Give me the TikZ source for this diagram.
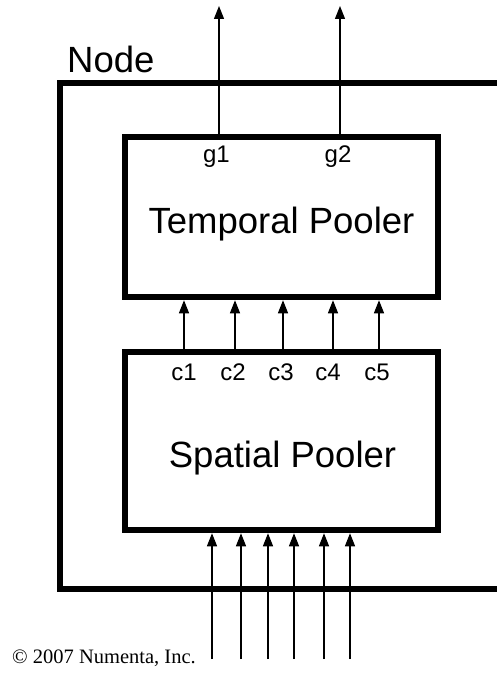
\documentclass[tikz,border=0pt]{standalone}
\usepackage{fontspec}
\setmainfont{Liberation Sans}
\newfontfamily\serifcopy{Liberation Serif}
\usetikzlibrary{arrows.meta}
\begin{document}
\begin{tikzpicture}[x=1pt,y=-1pt,
  frame/.style={line width=6pt},
  pooler/.style={draw,line width=6.5pt,minimum width=313pt,inner sep=0pt},
  arr/.style={line width=1.3pt,-{Triangle[length=13pt,width=10pt]}},
  lab/.style={font=\fontsize{24}{28}\selectfont,inner sep=0pt,anchor=base},
  big/.style={font=\fontsize{36.5}{40}\selectfont,inner sep=0pt,anchor=base}]
\useasboundingbox (0,0) rectangle (497,677);
\clip (0,0) rectangle (497,677);
% outer node frame
\draw[frame] (505,83) -- (60,83) -- (60,589) -- (505,589);
\node[big,anchor=base west] (nodelab) at (67,73) {Node};
% boxes
\node[pooler,minimum height=160pt] (tp) at (281.5,217) {};
\node[pooler,minimum height=178pt] (sp) at (281.5,441) {};
\node[big] (tplab) at (281.5,233) {Temporal Pooler};
\node[big] (splab) at (282.5,467) {Spatial Pooler};
% outputs
\node[lab] (g1) at (216.5,162) {g1};
\node[lab] (g2) at (338,162) {g2};
\coordinate (o1) at (219,6);
\coordinate (o2) at (340,6);
\draw[arr] (o1 |- tp.north) -- (o1);
\draw[arr] (o2 |- tp.north) -- (o2);
% coincidences
\foreach \i/\lx/\ax in {1/184/184,2/233/235,3/281/283,4/328/333,5/377/379}{
  \node[lab] (c\i) at (\lx,380) {c\i};
  \coordinate (ca\i) at (\ax,352);
  \draw[arr] (ca\i |- sp.north) -- (ca\i |- tp.south);
}
% inputs
\foreach \i/\ax in {1/212,2/241,3/268,4/294,5/324,6/350}{
  \coordinate (in\i) at (\ax,659);
  \draw[arr] (in\i) -- (in\i |- sp.south);
}
\node[font=\serifcopy\fontsize{20.5}{23}\selectfont,inner sep=0pt,anchor=base west] (copy) at (12,663) {© 2007 Numenta, Inc.};
\end{tikzpicture}
\end{document}
